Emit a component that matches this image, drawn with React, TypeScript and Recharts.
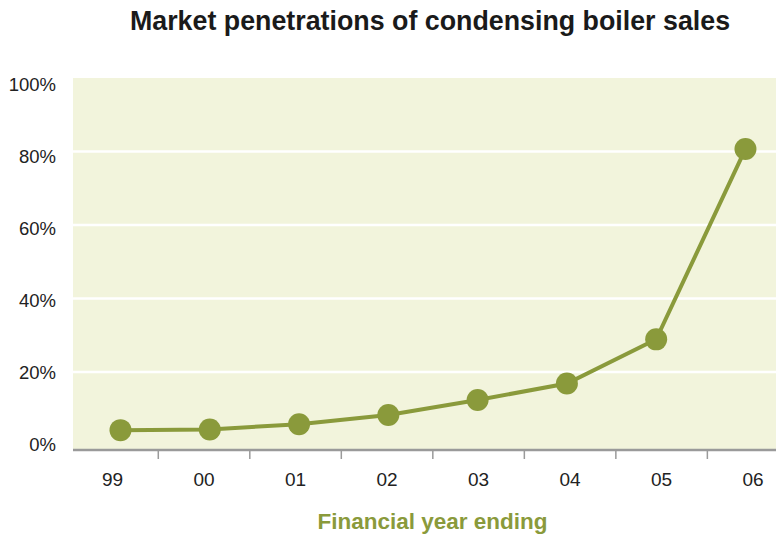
import { CartesianGrid, Line, LineChart, XAxis, YAxis } from "recharts";

// financial year ending (two-digit)
const years = ["99", "00", "01", "02", "03", "04", "05", "06"];
// condensing boiler share of sales, %
const penetration = [4.2, 4.4, 5.8, 8.3, 12.4, 16.9, 28.9, 80.7];
const yTicks = [0, 20, 40, 60, 80, 100];

const data = years.map((year, idx) => ({ idx, year, share: penetration[idx] }));
const boundaryTicks = years.slice(1).map((_, i) => i + 1);
const labelTicks = years.map((_, i) => i + 0.5);

const olive = "#8a9a3b";
const font = "'Liberation Sans', Arial, sans-serif";

export default function App() {
  return (
    <div style={{ position: "absolute", left: 0, top: 0, width: 776, height: 537, background: "#fff", fontFamily: font }}>
      <div
        style={{
          position: "absolute",
          top: 6,
          left: 430,
          transform: "translateX(-50%)",
          whiteSpace: "nowrap",
          fontSize: 26.8,
          fontWeight: 700,
          color: "#1a1a1a",
        }}
      >
        Market penetrations of condensing boiler sales
      </div>
      <LineChart width={776} height={537} data={data} margin={{ top: 78, right: 0, left: 0, bottom: 0 }}>
        <CartesianGrid fill="#f2f4dc" stroke="#ffffff" strokeWidth={2.5} vertical={false} horizontalValues={[20, 40, 60, 80]} />
        <YAxis domain={[-1.2, 100]} ticks={yTicks} allowDataOverflow hide width={0} />
        <YAxis
          yAxisId="labels"
          domain={[-1.667, 101.667]}
          ticks={yTicks}
          allowDataOverflow
          width={73}
          tickSize={0}
          tickMargin={17}
          axisLine={false}
          tickLine={false}
          tickFormatter={(v: number) => `${v}%`}
          tick={{ fill: "#222", fontSize: 18.5, fontFamily: font }}
        />
        <XAxis xAxisId="pos" type="number" dataKey="idx" domain={[-0.532, 7.342]} allowDataOverflow hide height={0} />
        <XAxis
          xAxisId="edge"
          type="number"
          dataKey="idx"
          domain={[0.068, 7.75]}
          allowDataOverflow
          ticks={boundaryTicks}
          interval={0}
          height={10}
          tickSize={9}
          tickFormatter={() => ""}
          axisLine={{ stroke: "#9a9a9a", strokeWidth: 2.5 }}
          tickLine={{ stroke: "#9a9a9a", strokeWidth: 1.5 }}
        />
        <XAxis
          xAxisId="label"
          type="number"
          dataKey="idx"
          domain={[0.068, 7.75]}
          allowDataOverflow
          ticks={labelTicks}
          interval={0}
          height={77}
          tickSize={0}
          tickMargin={13}
          axisLine={false}
          tickLine={false}
          tickFormatter={(v: number) => years[Math.floor(v)]}
          tick={{ fill: "#222", fontSize: 19, fontFamily: font }}
          label={{
            value: "Financial year ending",
            position: "insideBottom",
            offset: 8,
            dx: 8,
            style: { fill: olive, fontSize: 22.5, fontWeight: 700, fontFamily: font },
          }}
        />
        <Line
          xAxisId="pos"
          type="linear"
          dataKey="share"
          stroke={olive}
          strokeWidth={4}
          dot={{ r: 11, fill: olive, stroke: "none" }}
          activeDot={false}
          isAnimationActive={false}
        />
      </LineChart>
    </div>
  );
}
